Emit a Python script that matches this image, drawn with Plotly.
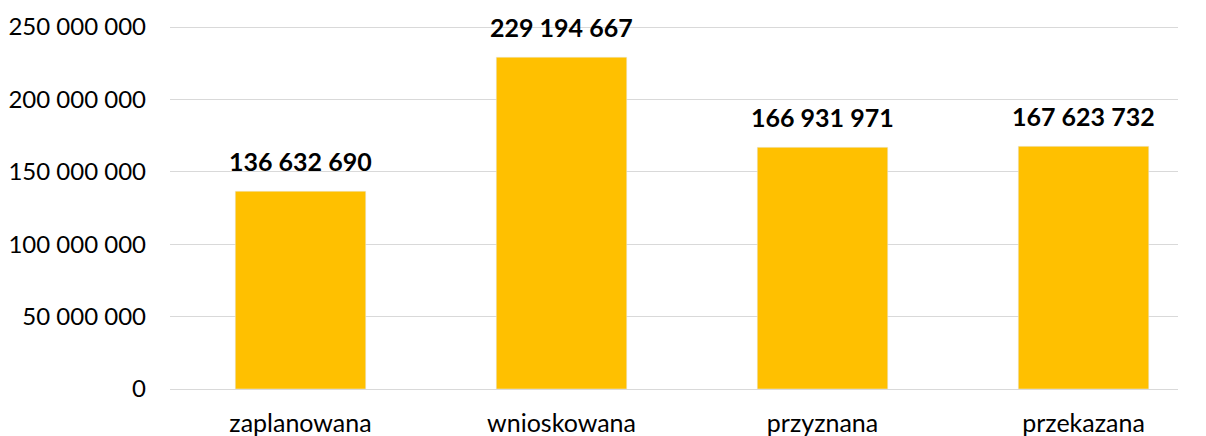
import plotly.graph_objects as go

categories = ["zaplanowana", "wnioskowana", "przyznana", "przekazana"]
values = [136632690, 229194667, 166931971, 167623732]
tick_vals = [0, 50000000, 100000000, 150000000, 200000000, 250000000]
tick_text = ["0", "50 000 000", "100 000 000", "150 000 000", "200 000 000", "250 000 000"]


def fmt(v):
    return f"{v:,}".replace(",", " ")


xs = list(range(len(categories)))

fig = go.Figure(go.Bar(
    x=xs,
    y=values,
    width=0.5,
    marker_color="#FFC000",
    cliponaxis=False,
))

# value labels sit well above the bars, like in the source chart
for x, v in zip(xs, values):
    fig.add_annotation(x=x, y=v, text=fmt(v), showarrow=False,
                       yanchor="bottom", yshift=13,
                       font=dict(size=25, color="black", family="Lato", weight="bold"))

fig.update_layout(
    width=1198, height=428,
    margin=dict(l=162, r=28, t=18, b=47),
    plot_bgcolor="white", paper_bgcolor="white",
    font=dict(family="Lato", size=24, color="#000000"),
    showlegend=False,
    xaxis=dict(range=[-0.5, 3.362], tickvals=xs, ticktext=categories,
               showgrid=False, zeroline=False, automargin=False,
               tickfont=dict(size=25),
               showline=True, linecolor="#d9d9d9", ticks="", ticklabelstandoff=12),
    yaxis=dict(range=[0, 250700000], tickvals=tick_vals, ticktext=tick_text,
               showgrid=True, gridcolor="#d9d9d9", zeroline=False, ticks="",
               automargin=False, ticklabelstandoff=23),
)

fig.write_html("out.html")
